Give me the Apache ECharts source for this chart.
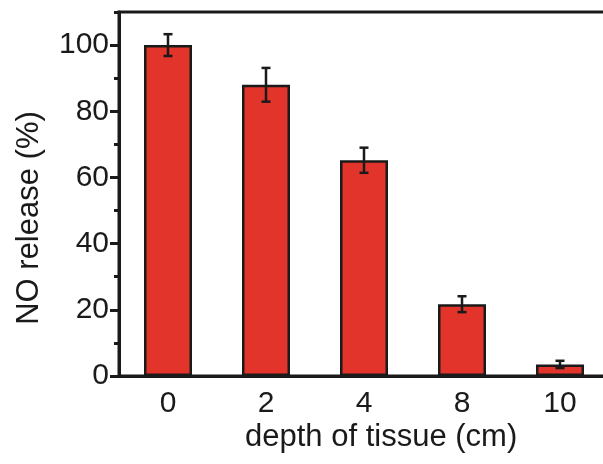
<!DOCTYPE html>
<html style="width: 100%; height: 100%">
<head>
    <meta charset="utf-8">
    <script src="https://cdn.jsdelivr.net/npm/echarts@6/dist/echarts.min.js"></script>
</head>
<body style="width: 100%; height: 100%; margin: 0; background: #fff">
<div id="container" style="width: 603px; height: 464px"></div>

<script type="text/javascript">
    // data
    var depths = ['0', '2', '4', '8', '10'];
    var release = [100, 88, 65.2, 21.7, 3.5];
    var errors = [3.3, 5.1, 3.8, 2.4, 1.1];
    var majorTicks = [0, 20, 40, 60, 80, 100];
    var minorTicks = [10, 30, 50, 70, 90, 110];

    var ink = '#1a1a1a';
    var font = '"Liberation Sans", Arial, sans-serif';

    var dom = document.getElementById("container");
    var myChart = echarts.init(dom);

    var errData = release.map(function (v, i) {
        return [i, v - errors[i], v + errors[i]];
    });

    var option = {
        animation: false,
        grid: {
            left: 119,
            top: 12,
            width: 490,
            height: 364,
            outerBoundsMode: 'none',
            containLabel: false,
            show: true,
            borderColor: ink,
            borderWidth: 3
        },
        xAxis: [
            {
                type: 'category',
                data: depths,
                axisLine: {lineStyle: {color: ink, width: 3}},
                axisTick: {alignWithLabel: true, length: 9, lineStyle: {color: ink, width: 3}},
                axisLabel: {color: ink, fontSize: 30, fontFamily: font, margin: 13}
            },
            {
                type: 'category',
                data: depths,
                position: 'bottom',
                axisLine: {show: false},
                axisTick: {length: 5, lineStyle: {color: ink, width: 3}},
                axisLabel: {show: false}
            }
        ],
        yAxis: [
            {
                type: 'value',
                min: 0,
                max: 110,
                interval: 10,
                splitLine: {show: false},
                axisLine: {show: true, lineStyle: {color: ink, width: 3}},
                axisTick: {show: true, length: 9, customValues: majorTicks, lineStyle: {color: ink, width: 3}},
                axisLabel: {color: ink, fontSize: 30, fontFamily: font, margin: 10, customValues: majorTicks}
            },
            {
                type: 'value',
                min: 0,
                max: 110,
                interval: 10,
                position: 'left',
                splitLine: {show: false},
                axisLine: {show: false},
                axisTick: {show: true, length: 5, customValues: minorTicks, lineStyle: {color: ink, width: 3}},
                axisLabel: {show: false}
            }
        ],
        graphic: [
            {
                type: 'text',
                left: 382 - 137,
                top: 439 - 17,
                style: {
                    text: 'depth of tissue (cm)',
                    fill: ink,
                    font: '31px ' + font
                }
            },
            {
                type: 'text',
                x: 29,
                y: 218,
                rotation: Math.PI / 2,
                style: {
                    text: 'NO release (%)',
                    fill: ink,
                    font: '31px ' + font,
                    align: 'center',
                    verticalAlign: 'middle'
                }
            }
        ],
        series: [
            {
                type: 'bar',
                data: release,
                barWidth: 48,
                itemStyle: {color: '#e3342b', borderColor: ink, borderWidth: 2.5}
            },
            {
                type: 'custom',
                data: errData,
                z: 5,
                renderItem: function (params, api) {
                    var lo = api.coord([api.value(0), api.value(1)]);
                    var hi = api.coord([api.value(0), api.value(2)]);
                    var cap = 4.5;
                    var st = {stroke: ink, lineWidth: 2.5};
                    return {
                        type: 'group',
                        children: [
                            {type: 'line', shape: {x1: lo[0], y1: lo[1], x2: hi[0], y2: hi[1]}, style: st},
                            {type: 'line', shape: {x1: hi[0] - cap, y1: hi[1], x2: hi[0] + cap, y2: hi[1]}, style: st},
                            {type: 'line', shape: {x1: lo[0] - cap, y1: lo[1], x2: lo[0] + cap, y2: lo[1]}, style: st}
                        ]
                    };
                }
            }
        ]
    };
    myChart.setOption(option);
</script>
</body>
</html>
